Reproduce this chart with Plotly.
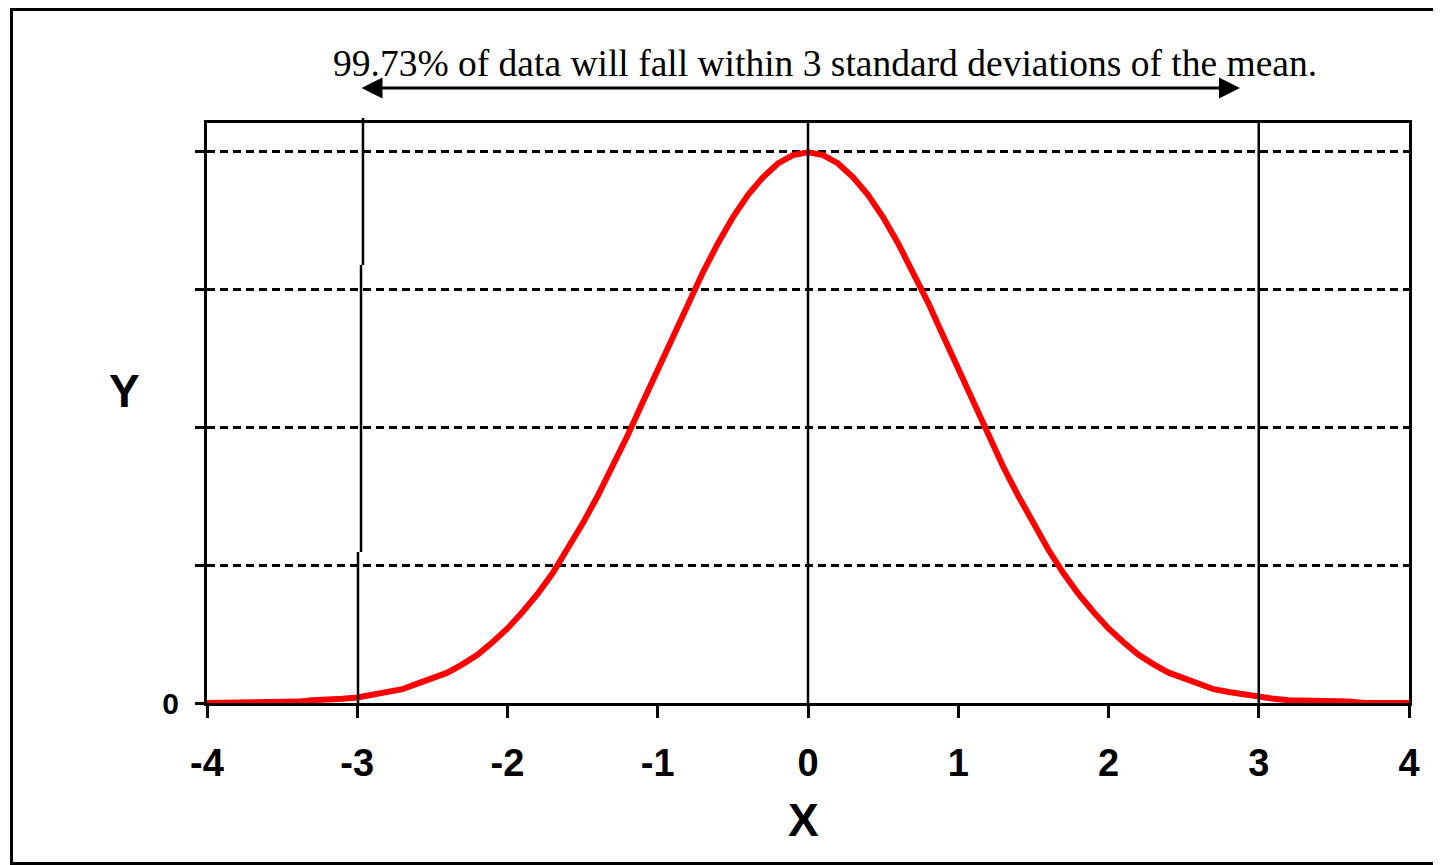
import plotly.graph_objects as go

# Data (standard normal curve)
x_vals = [round(-4 + 0.1 * i, 1) for i in range(81)]
left_half = [0.000, 0.000, 0.000, 0.000, 0.001, 0.001, 0.001, 0.002, 0.002, 0.003,
             0.004, 0.006, 0.008, 0.010, 0.014, 0.018, 0.022, 0.028, 0.035, 0.044,
             0.054, 0.066, 0.079, 0.094, 0.111, 0.130, 0.150, 0.171, 0.194, 0.218,
             0.242, 0.266, 0.290, 0.312, 0.333, 0.352, 0.368, 0.381, 0.391, 0.397]
peak = [0.399]
y_vals = left_half + peak + left_half[::-1]

x_ticks = [-4, -3, -2, -1, 0, 1, 2, 3, 4]
x_tick_labels = ["-4", "-3", "-2", "-1", "0", "1", "2", "3", "4"]
y_ticks = [0, 0.1, 0.2, 0.3, 0.4]
y_tick_labels = ["0", "", "", "", ""]
sigma_lines = [0, 3]
title_text = "99.73% of data will fall within 3 standard deviations of the mean."

Y_TOP = 0.4203
OFF = 8  # browser body margin

# plot area in screen px: x 207..1409, y 123..703
def px_x(p):
    return (p - 207) / 1202

def px_y(p):
    return (703 - p) / 580

fig = go.Figure()
fig.add_trace(go.Scatter(x=x_vals, y=y_vals, mode="lines",
                         line=dict(color="#ff0000", width=6),
                         showlegend=False, hoverinfo="skip"))

shapes = []
for xv in sigma_lines:
    shapes.append(dict(type="line", xref="x", yref="y", x0=xv, x1=xv, y0=0, y1=Y_TOP,
                       line=dict(color="black", width=2.5), layer="above"))
# the -3 line is drawn in slightly offset pieces in the original
for (xa, p0, p1) in [(-2.962, 265, 118), (-2.975, 552, 265), (-2.995, 703, 552)]:
    shapes.append(dict(type="line", xref="x", yref="paper", x0=xa, x1=xa,
                       y0=px_y(p0), y1=px_y(p1),
                       line=dict(color="black", width=2.5), layer="above"))
# outer border
shapes.append(dict(type="rect", xref="paper", yref="paper",
                   x0=px_x(11.5), x1=px_x(1460),
                   y0=px_y(863.5), y1=px_y(9.5),
                   line=dict(color="black", width=3), fillcolor="rgba(0,0,0,0)"))

annotations = [
    dict(text=title_text, xref="paper", yref="paper",
         x=px_x(825), y=px_y(63), showarrow=False,
         font=dict(family="Liberation Serif, Times New Roman, serif", size=37.5, color="black"),
         xanchor="center", yanchor="middle"),
    dict(text="", xref="paper", yref="paper", axref="pixel", ayref="pixel",
         x=px_x(1240), y=px_y(88), ax=-880, ay=0,
         showarrow=True, arrowhead=2, startarrowhead=2, arrowside="end+start",
         arrowsize=1.4, startarrowsize=1.4, arrowwidth=3, arrowcolor="black"),
    dict(text="X", xref="paper", yref="paper",
         x=px_x(803), y=px_y(820), showarrow=False,
         font=dict(family="Liberation Sans, Arial, sans-serif", size=46,
                   color="black", weight="bold"),
         xanchor="center", yanchor="middle"),
    dict(text="Y", xref="paper", yref="paper",
         x=px_x(124), y=px_y(391), showarrow=False,
         font=dict(family="Liberation Sans, Arial, sans-serif", size=46,
                   color="black", weight="bold"),
         xanchor="center", yanchor="middle"),
]

fig.update_layout(
    width=1441 - OFF, height=865 - OFF,
    margin=dict(l=207 - OFF, r=(1441 - OFF) - (1409 - OFF), t=123 - OFF,
                b=(865 - OFF) - (703 - OFF), pad=0),
    paper_bgcolor="white", plot_bgcolor="white",
    shapes=shapes, annotations=annotations,
    xaxis=dict(range=[-4, 4], tickvals=x_ticks, ticktext=x_tick_labels,
               ticks="outside", ticklen=12, tickwidth=2.5, tickcolor="black",
               showline=True, linecolor="black", linewidth=3, mirror=True,
               showgrid=False, zeroline=False, ticklabelstandoff=12,
               tickfont=dict(family="Liberation Sans, Arial, sans-serif", size=38,
                             color="black", weight="bold")),
    yaxis=dict(range=[0, Y_TOP], tickvals=y_ticks, ticktext=y_tick_labels,
               ticks="outside", ticklen=9, tickwidth=2.5, tickcolor="black",
               showline=True, linecolor="black", linewidth=3, mirror=True,
               showgrid=True, gridcolor="black", gridwidth=2.5, griddash="8px,5px",
               zeroline=False, ticklabelstandoff=10,
               tickfont=dict(family="Liberation Sans, Arial, sans-serif", size=30,
                             color="black", weight="bold")),
)

fig.write_html("out.html")
